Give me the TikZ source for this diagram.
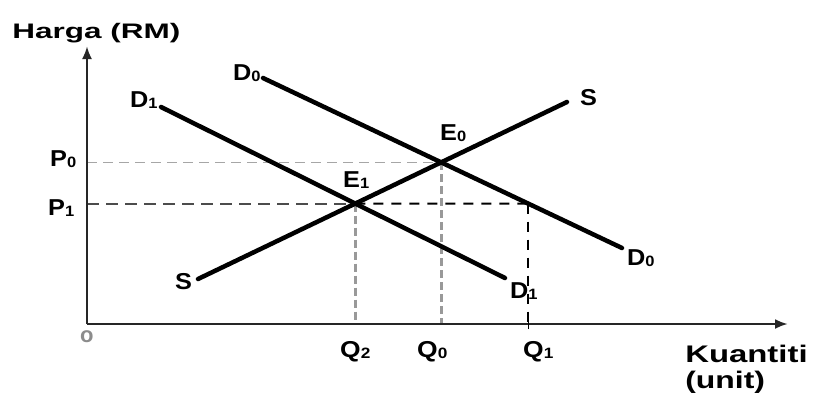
\documentclass[tikz,border=0pt]{standalone}
\usepackage{fontspec}
\setmainfont{Liberation Sans}
\usetikzlibrary{arrows.meta,intersections}
\newcommand\lsub[1]{\raisebox{-1.5pt}{\fontsize{15}{15}\selectfont #1}}
\begin{document}
\begin{tikzpicture}[x=1pt,y=-1pt,
  lbl/.style={font=\bfseries\fontsize{23}{26}\selectfont, inner sep=0, anchor=base west},
  curve/.style={line width=4.5pt, line cap=round},
  axis/.style={line width=2.8pt, draw=black!85, -{Latex[length=13pt,width=10pt]}},
  guidelight/.style={draw=black!35, line width=1.5pt, dash pattern=on 10pt off 6pt},
  guidegrey/.style={draw=black!40, line width=3pt, dash pattern=on 8pt off 4pt},
  guidedark/.style={draw=black!70, line width=2pt, dash pattern=on 12pt off 7pt},
  guideblack/.style={draw=black, line width=2pt, dash pattern=on 10pt off 8pt}]
\useasboundingbox (0,0) rectangle (817,394);
\fill[white] (0,0) rectangle (817,394);
\coordinate (O) at (87,324);
\coordinate (Ytop) at (87,46);
\coordinate (Xend) at (788,324);
% curves
\coordinate (D0a) at (263,78);  \coordinate (D0b) at (622,248);
\coordinate (D1a) at (161,107); \coordinate (D1b) at (505,278);
\coordinate (Sa) at (198,279);  \coordinate (Sb) at (567,102);
\path[name path=pD0] (D0a) -- (D0b);
\path[name path=pD1] (D1a) -- (D1b);
\path[name path=pS] (Sa) -- (Sb);
\path[name intersections={of=pD0 and pS, by=E0}];
\path[name intersections={of=pD1 and pS, by=E1}];
\path[name path=pH] (O |- E1) -- ++(700,0);
\path[name intersections={of=pD0 and pH, by=Q1pt}];
% guides
\draw[guidelight] (O |- E0) -- (E0);
\draw[guidegrey] (E0) -- (E0 |- O);
\draw[guidegrey] (E1) -- (E1 |- O);
\draw[guidedark] (O |- E1) -- (E1);
\draw[guideblack] (E1) -- (Q1pt);
\draw[guideblack] (Q1pt) -- (Q1pt |- O);
% axes
\draw[axis] (O) -- (Ytop);
\draw[axis] (O) -- (Xend);
\draw[line width=1pt] ([yshift=-5pt]Q1pt |- O) -- ([yshift=5pt]Q1pt |- O);
% curves
\draw[curve] (D0a) -- (D0b);
\draw[curve] (D1a) -- (D1b);
\draw[curve] (Sa) -- (Sb);
% labels
\node[lbl, font=\bfseries\fontsize{21}{24}\selectfont, xscale=1.5] (ylab) at (12,38) {Harga (RM)};
\node[lbl, font=\bfseries\fontsize{24}{26}\selectfont, xscale=1.37] (xlab1) at (685,362) {Kuantiti};
\node[lbl, font=\bfseries\fontsize{24}{26}\selectfont, xscale=1.33] (xlab2) at (685,388) {(unit)};
\node[lbl, text=black!45, font=\bfseries\fontsize{22}{24}\selectfont] (orig) at (80,342) {o};
\node[lbl, xscale=1.1] (lD0t) at (233,80) {D\lsub{0}};
\node[lbl, xscale=1.1] (lD1t) at (130,107) {D\lsub{1}};
\node[lbl, xscale=1.1] (lSl) at (175,289) {S};
\node[lbl, xscale=1.1] (lSu) at (580,105) {S};
\node[lbl, xscale=1.1] (lD0b) at (627,265) {D\lsub{0}};
\node[lbl, xscale=1.1] (lD1b) at (510,298) {D\lsub{1}};
\node[lbl, xscale=1.1] (lE0) at (440,140) {E\lsub{0}};
\node[lbl, xscale=1.1] (lE1) at (343,187) {E\lsub{1}};
\node[lbl, xscale=1.1] (lP0) at (50,166) {P\lsub{0}};
\node[lbl, xscale=1.1] (lP1) at (48,215) {P\lsub{1}};
\node[lbl, xscale=1.15] (lQ2) at (340,357) {Q\lsub{2}};
\node[lbl, xscale=1.15] (lQ0) at (417,357) {Q\lsub{0}};
\node[lbl, xscale=1.15] (lQ1) at (523,357) {Q\lsub{1}};
\end{tikzpicture}
\end{document}
